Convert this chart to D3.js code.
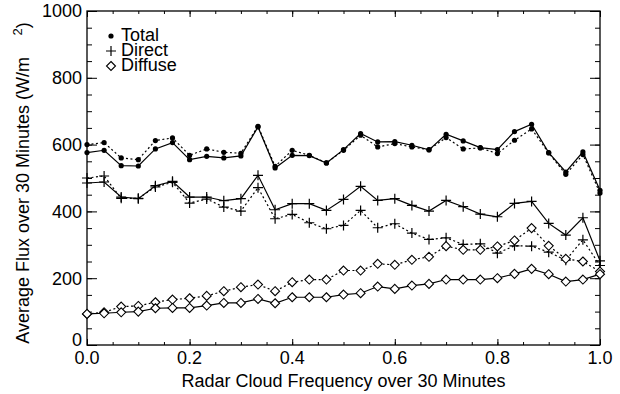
<!DOCTYPE html>
<html>
<head>
<meta charset="utf-8">
<script src="https://cdn.jsdelivr.net/npm/d3@7"></script>
<style>
  body { margin: 0; background: #fff; }
  svg { display: block; font-family: 'Liberation Sans', Arial, sans-serif; }
</style>
</head>
<body>
<div id="chart"></div>
<script>
// cloud frequency bins, 0 .. 1 in steps of 1/30
const freq = d3.range(31).map(i => i / 30);

const totalSolid = [576, 583, 537, 536, 587, 606, 555, 565, 560, 566, 653, 530, 568, 567, 545, 585,
    633, 608, 609, 598, 584, 631, 611, 591, 585, 639, 661, 576, 518, 578, 463];
const totalDotted = [600, 606, 560, 555, 612, 620, 568, 587, 577, 574, 655, 535, 583, 568, 545, 583,
    628, 593, 603, 593, 585, 621, 587, 590, 573, 613, 647, 575, 511, 570, 455];
const directSolid = [485, 488, 443, 438, 477, 490, 443, 443, 432, 438, 508, 405, 423, 423, 403, 436,
    475, 433, 438, 418, 401, 433, 414, 392, 384, 424, 430, 364, 329, 381, 252];
const directDotted = [500, 506, 439, 439, 473, 487, 425, 437, 413, 401, 471, 378, 391, 366, 348, 358,
    403, 351, 363, 335, 316, 321, 301, 303, 275, 297, 296, 278, 254, 315, 238];
const diffuseSolid = [93, 95, 98, 100, 110, 111, 111, 118, 126, 126, 138, 125, 143, 143, 143, 151,
    155, 175, 168, 178, 183, 196, 196, 196, 200, 213, 228, 212, 190, 196, 212];
const diffuseDotted = [93, 98, 115, 117, 128, 136, 140, 147, 161, 173, 181, 161, 188, 196, 196, 223,
    223, 243, 240, 255, 264, 296, 285, 285, 295, 313, 350, 297, 258, 250, 220];

const xTicks = [0, 0.2, 0.4, 0.6, 0.8, 1.0];
const yTicks = [0, 200, 400, 600, 800, 1000];
const legendNames = ['Total', 'Direct', 'Diffuse'];

const W = 620, H = 394;
const margin = { top: 11, right: 20, bottom: 49, left: 87 };
const width = W - margin.left - margin.right;
const height = H - margin.top - margin.bottom;

const svg = d3.select('#chart').append('svg')
    .attr('width', W)
    .attr('height', H);

const g = svg.append('g')
    .attr('transform', `translate(${margin.left},${margin.top})`);

const x = d3.scaleLinear().domain([0, 1]).range([0, width]);
const y = d3.scaleLinear().domain([0, 1000]).range([height, 0]);

const fontSize = 18;

// axes, IDL style: ticks inward on all four sides
function tickAxis(axis, scale, major, minorStep, len, lenMinor, transform) {
    const minor = d3.range(scale.domain()[0], scale.domain()[1] + minorStep / 2, minorStep);
    g.append('g').attr('transform', transform)
        .call(axis(scale).tickValues(minor).tickSize(lenMinor).tickFormat(''))
        .call(a => a.select('.domain').remove());
    g.append('g').attr('transform', transform)
        .call(axis(scale).tickValues(major).tickSize(len).tickFormat(''))
        .call(a => a.select('.domain').remove());
}
tickAxis(d3.axisTop, x, xTicks, 0.05, 6, 3, `translate(0,${height})`);
tickAxis(d3.axisBottom, x, xTicks, 0.05, 6, 3, 'translate(0,0)');
tickAxis(d3.axisRight, y, yTicks, 50, 10, 5, 'translate(0,0)');
tickAxis(d3.axisLeft, y, yTicks, 50, 10, 5, `translate(${width},0)`);
g.selectAll('.tick line').attr('stroke', '#000').attr('stroke-width', 1);

g.append('rect')
    .attr('width', width)
    .attr('height', height)
    .attr('fill', 'none')
    .attr('stroke', '#000')
    .attr('stroke-width', 1.3);

// tick labels
g.selectAll('.xlab')
    .data(xTicks)
    .enter().append('text')
    .attr('x', d => x(d))
    .attr('y', height + 19)
    .attr('text-anchor', 'middle')
    .style('font-size', fontSize + 'px')
    .text(d3.format('.1f'));

g.selectAll('.ylab')
    .data(yTicks)
    .enter().append('text')
    .attr('x', -5)
    .attr('y', d => Math.min(y(d), height - 5))
    .attr('dy', '0.35em')
    .attr('text-anchor', 'end')
    .style('font-size', fontSize + 'px')
    .text(d => d);

g.append('text')
    .attr('x', width / 2)
    .attr('y', height + 42)
    .attr('text-anchor', 'middle')
    .style('font-size', fontSize + 'px')
    .text('Radar Cloud Frequency over 30 Minutes');

const yTitle = g.append('text')
    .attr('transform', `translate(-58,${height / 2 + 5}) rotate(-90)`)
    .attr('text-anchor', 'middle')
    .style('font-size', fontSize + 'px');
yTitle.append('tspan').text('Average Flux over 30 Minutes (W/m\u2003\u2009');
yTitle.append('tspan').attr('dy', -7).style('font-size', '13px').text('2');
yTitle.append('tspan').attr('dy', 7).text(')');

// lines
const line = d3.line()
    .x((d, i) => x(freq[i]))
    .y(d => y(d));

const series = [
    { values: totalDotted, dash: '2,2.5', sym: 'dot' },
    { values: totalSolid, dash: null, sym: 'dot' },
    { values: directDotted, dash: '2,2.5', sym: 'plus' },
    { values: directSolid, dash: null, sym: 'plus' },
    { values: diffuseDotted, dash: '2,2.5', sym: 'diamond' },
    { values: diffuseSolid, dash: null, sym: 'diamond' }
];

function drawSymbol(sel, sym) {
    if (sym === 'dot') {
        sel.append('circle').attr('r', 2.6).attr('fill', '#000');
    } else if (sym === 'plus') {
        sel.append('path').attr('d', 'M-5,0H5M0,-5V5')
            .attr('stroke', '#000').attr('stroke-width', 1.2).attr('fill', 'none');
    } else {
        sel.append('path').attr('d', 'M0,-4.5L4.5,0L0,4.5L-4.5,0Z')
            .attr('stroke', '#000').attr('stroke-width', 1.1).attr('fill', '#fff');
    }
}

series.forEach(s => {
    g.append('path')
        .datum(s.values)
        .attr('d', line)
        .attr('fill', 'none')
        .attr('stroke', '#000')
        .attr('stroke-width', 1.2)
        .attr('stroke-dasharray', s.dash);
});

series.forEach(s => {
    g.selectAll(null)
        .data(s.values)
        .enter().append('g')
        .attr('transform', (d, i) => `translate(${x(freq[i])},${y(d)})`)
        .each(function () { drawSymbol(d3.select(this), s.sym); });
});

// legend
const legend = g.append('g').attr('transform', 'translate(24,25)');
['dot', 'plus', 'diamond'].forEach((sym, i) => {
    const row = legend.append('g').attr('transform', `translate(0,${i * 15})`);
    drawSymbol(row, sym);
    row.append('text')
        .attr('x', 10)
        .attr('y', 5)
        .style('font-size', fontSize + 'px')
        .text(legendNames[i]);
});
</script>
</body>
</html>
